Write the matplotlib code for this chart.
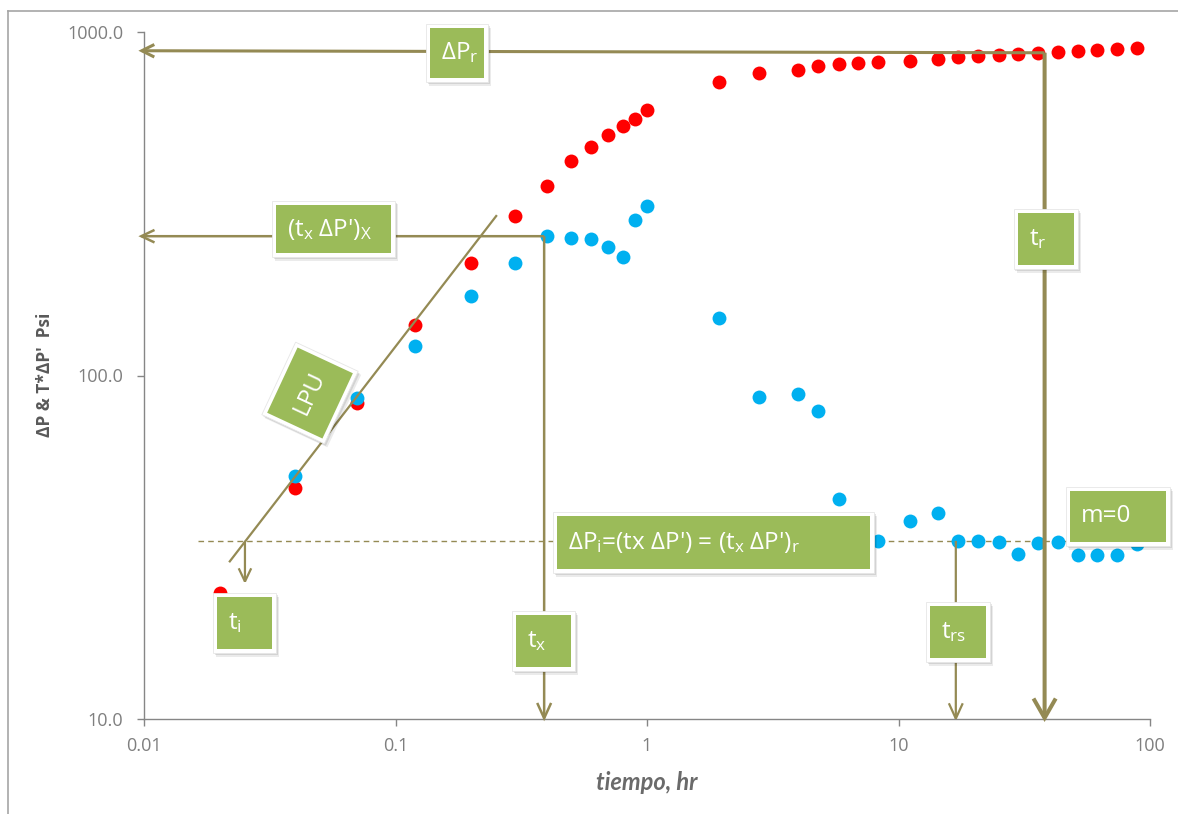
import matplotlib
matplotlib.use("Agg")
import matplotlib.pyplot as plt
from matplotlib.patches import Rectangle, Polygon
from matplotlib.lines import Line2D
from matplotlib.ticker import FixedLocator, FixedFormatter, NullLocator
import numpy as np

# ---- data -------------------------------------------------------------
t_dp = [0.02, 0.04, 0.07, 0.12, 0.2, 0.3, 0.4, 0.5, 0.6, 0.7, 0.8, 0.9, 1.0,
        1.94, 2.78, 4.0, 4.8, 5.78, 6.93, 8.3, 11.1, 14.4, 17.3, 20.8, 25.0,
        29.9, 35.9, 43.0, 51.6, 61.8, 74.2, 89.0]
dp = [23.3, 47, 83, 140, 212, 291, 356, 421, 463, 501, 532, 558, 593,
      713, 759, 775, 797, 807, 815, 819, 826, 837, 843, 850, 858,
      865, 868, 875, 881, 885, 892, 899]

t_der = [0.04, 0.07, 0.12, 0.2, 0.3, 0.4, 0.5, 0.6, 0.7, 0.8, 0.9, 1.0,
         1.94, 2.78, 4.0, 4.8, 5.78, 8.3, 11.1, 14.4, 17.3, 20.8, 25.0,
         29.9, 35.9, 43.0, 51.6, 61.8, 74.2, 89.0]
dp_der = [50.9, 85.9, 122, 170, 212, 255, 252, 250, 236, 221, 283, 312,
          147, 86.6, 88.1, 78.9, 43.7, 33.0, 37.6, 39.8, 33.0, 33.0, 32.8,
          30.3, 32.6, 32.8, 30.1, 30.0, 30.0, 32.4]

x_ticks = [0.01, 0.1, 1, 10, 100]
x_ticklabels = ["0.01", "0.1", "1", "10", "100"]
y_ticks = [10, 100, 1000]
y_ticklabels = ["10.0", "100.0", "1000.0"]

# characteristic values of the analysis
t_i, t_x, t_rs, t_r = 0.0252, 0.39, 16.9, 38.1
dp_r_left, dp_r_corner = 882, 870
tdp_x = 254.4
dp_i = 33.0
lpu_t = [0.0218, 0.253]
lpu_p = [28.6, 293]

# ---- style ------------------------------------------------------------
W, H = 1178, 814
OLIVE = "#948A54"
GREEN = "#9BBB59"
RED = "#FF0000"
BLUE = "#00B0F0"
GRAY_AX = "#868686"
GRAY_TXT = "#7F7F7F"

plt.rcParams["font.family"] = ["Open Sans", "DejaVu Sans"]
plt.rcParams["mathtext.fontset"] = "custom"
plt.rcParams["mathtext.rm"] = "Open Sans"
plt.rcParams["mathtext.it"] = "Open Sans:italic"
plt.rcParams["mathtext.bf"] = "Open Sans:bold"

fig = plt.figure(figsize=(W / 100, H / 100), dpi=100)
fig.patch.set_facecolor("white")


def fx(px):
    return px / W


def fy(py):
    return 1 - py / H


ax = fig.add_axes([fx(144), fy(719), (1150 - 144) / W, (719 - 32) / H])
ax.set_xscale("log")
ax.set_yscale("log")
ax.set_xlim(0.01, 100)
ax.set_ylim(10, 1000)

for s in ("top", "right"):
    ax.spines[s].set_visible(False)
for s in ("left", "bottom"):
    ax.spines[s].set_color(GRAY_AX)
    ax.spines[s].set_linewidth(1.0)

ax.xaxis.set_major_locator(FixedLocator(x_ticks))
ax.xaxis.set_major_formatter(FixedFormatter(x_ticklabels))
ax.yaxis.set_major_locator(FixedLocator(y_ticks))
ax.yaxis.set_major_formatter(FixedFormatter(y_ticklabels))
ax.xaxis.set_minor_locator(NullLocator())
ax.yaxis.set_minor_locator(NullLocator())
ax.tick_params(axis="both", which="major", direction="out", length=5,
               width=1, color=GRAY_AX, labelcolor=GRAY_TXT, labelsize=13)
ax.tick_params(axis="x", pad=8)
ax.tick_params(axis="y", pad=10)

# reference level of the derivative
ax.plot([0.0164, 90], [dp_i, dp_i], ls=(0, (4, 3)), color=OLIVE, lw=1.0,
        zorder=1, clip_on=False)

# pressure and derivative points
ax.plot(t_dp, dp, "o", color=RED, ms=10, mec="none", zorder=2, clip_on=False)
ax.plot(t_der, dp_der, "o", color=BLUE, ms=10, mec="none", zorder=2,
        clip_on=False)


def seg(x0, y0, x1, y1, lw):
    ax.plot([x0, x1], [y0, y1], color=OLIVE, lw=lw, solid_capstyle="butt",
            zorder=3, clip_on=False)


def arrow(x0, y0, x1, y1, lw, hl, hw):
    ax.annotate("", xy=(x1, y1), xytext=(x0, y0), zorder=3,
                annotation_clip=False,
                arrowprops=dict(arrowstyle=f"->,head_length={hl},head_width={hw}",
                                color=OLIVE, lw=lw, shrinkA=0, shrinkB=0,
                                mutation_scale=1, joinstyle="miter",
                                capstyle="butt"))


# ΔP_r level and t_r
arrow(t_r, dp_r_corner, 0.0095, dp_r_left, 2.2, 9, 4.5)
arrow(t_r, dp_r_corner, t_r, 9.8, 2.9, 14, 8)
# (t x ΔP')_x level and t_x
arrow(t_x, tdp_x, 0.0095, tdp_x, 1.8, 9.5, 4.5)
arrow(t_x, tdp_x, t_x, 9.85, 1.8, 11, 5)
# unit-slope line
seg(lpu_t[0], lpu_p[0], lpu_t[1], lpu_p[1], 1.6)
# t_i and t_rs
arrow(t_i, dp_i, t_i, 24.7, 1.6, 9.5, 4.5)
arrow(t_rs, dp_i, t_rs, 9.85, 1.6, 11, 5)


# ---- label boxes (figure pixel positions) -----------------------------
def shadowed(verts, z):
    for dx, dy, a in ((1.5, 2.0, 0.10), (3.0, 3.5, 0.08)):
        sv = [(fx(x + dx), fy(y + dy)) for x, y in verts]
        fig.patches.append(Polygon(sv, closed=True, transform=fig.transFigure,
                                   facecolor="black", edgecolor="none",
                                   alpha=a, zorder=z))


def box(x0, y0, x1, y1, label, size=17.5, tx_off=15):
    verts = [(x0, y0), (x1, y0), (x1, y1), (x0, y1)]
    shadowed(verts, 5)
    fig.patches.append(Rectangle((fx(x0), fy(y1)), fx(x1 - x0), (y1 - y0) / H,
                                 transform=fig.transFigure, facecolor="white",
                                 edgecolor="#E6E6E6", lw=0.6, zorder=6))
    b = 4
    fig.patches.append(Rectangle((fx(x0 + b), fy(y1 - b)), fx(x1 - x0 - 2 * b),
                                 (y1 - y0 - 2 * b) / H,
                                 transform=fig.transFigure, facecolor=GREEN,
                                 edgecolor="none", zorder=7))
    fig.text(fx(x0 + tx_off), fy((y0 + y1) / 2), label, color="white",
             fontsize=size, ha="left", va="center", zorder=8)


def rot_box(cx, cy, w, h, ang, label, size=17.5):
    a = np.deg2rad(ang)
    u = np.array([np.cos(a), -np.sin(a)])   # text direction (pixel, y down)
    v = np.array([np.sin(a), np.cos(a)])    # across the text
    c = np.array([cx, cy])

    def corners(ww, hh):
        return [tuple(c + su * ww / 2 * u + sv * hh / 2 * v)
                for su, sv in ((-1, -1), (1, -1), (1, 1), (-1, 1))]

    shadowed(corners(w, h), 5)
    fig.patches.append(Polygon([(fx(x), fy(y)) for x, y in corners(w, h)],
                               closed=True, transform=fig.transFigure,
                               facecolor="white", edgecolor="#E6E6E6", lw=0.6,
                               zorder=6))
    fig.patches.append(Polygon([(fx(x), fy(y)) for x, y in corners(w - 8, h - 8)],
                               closed=True, transform=fig.transFigure,
                               facecolor=GREEN, edgecolor="none", zorder=7))
    fig.text(fx(cx), fy(cy), label, color="white", fontsize=size,
             ha="center", va="center", rotation=ang, rotation_mode="anchor",
             zorder=8)


box(426, 24, 488, 82, r"ΔP$_\mathrm{r}$")
box(272, 201, 395, 257, r"(t$_\mathrm{x}$ ΔP')$_\mathrm{X}$")
box(1014, 209, 1078, 269, r"t$_\mathrm{r}$")
box(553, 512, 874, 573, r"ΔP$_\mathrm{i}$=(tx ΔP') = (t$_\mathrm{x}$ ΔP')$_\mathrm{r}$")
box(1066, 487, 1170, 546, "m=0")
box(213, 593, 276, 653, r"t$_\mathrm{i}$")
box(512, 611, 575, 671, r"t$_\mathrm{x}$")
box(926, 602, 990, 662, r"t$_\mathrm{rs}$")
rot_box(310, 393, 80, 69, 65, "LPU")

# ---- axis titles --------------------------------------------------------
fig.text(fx(45), fy(375), "ΔP & T*ΔP'  Psi", rotation=90, ha="center",
         va="center", fontsize=12.5, fontweight="bold", color="#595959")
fig.text(fx(647), fy(783), "tiempo, hr", ha="center", va="center",
         fontsize=17, fontstyle="italic", fontweight="bold", color="#6A6A6A",
         family=["Lato", "DejaVu Sans"])

# outer chart frame
fig.add_artist(Line2D([fx(7.7), fx(7.7)], [fy(10.7), 0], color="#A5A5A5",
                      lw=1.2, transform=fig.transFigure))
fig.add_artist(Line2D([fx(7.7), 1], [fy(10.7), fy(10.7)], color="#A5A5A5",
                      lw=1.2, transform=fig.transFigure))

fig.savefig("out.png", dpi=100, facecolor="white")
